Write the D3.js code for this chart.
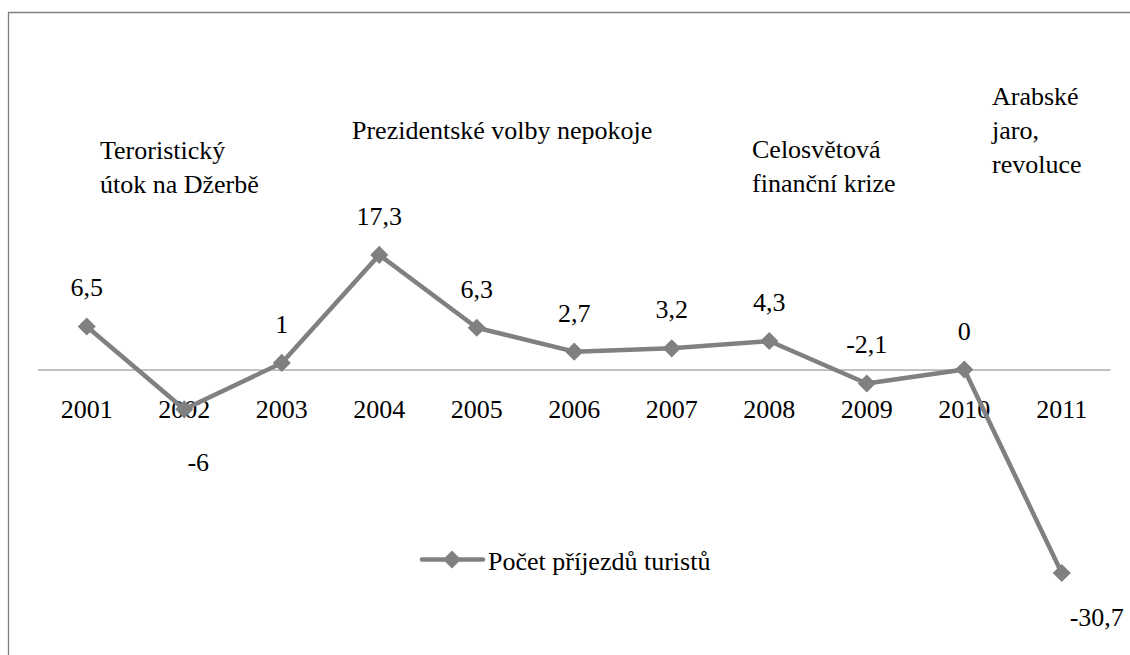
<!DOCTYPE html>
<html>
<head>
<meta charset="utf-8">
<script src="https://cdn.jsdelivr.net/npm/d3@7"></script>
<style>
  body { margin: 0; background: #fff; }
</style>
</head>
<body>
<div id="graph"></div>
<script>
// Data
var years = ["2001", "2002", "2003", "2004", "2005", "2006", "2007", "2008", "2009", "2010", "2011"];
var arrivals = [6.5, -6, 1, 17.3, 6.3, 2.7, 3.2, 4.3, -2.1, 0, -30.7];
var seriesName = "Počet příjezdů turistů";

// event notes, each a list of lines
var noteLines = [
    ["Teroristický", "útok na Džerbě"],
    ["Prezidentské volby nepokoje"],
    ["Celosvětová", "finanční krize"],
    ["Arabské", "jaro,", "revoluce"]
];

// layout of the notes and the labels (not data)
var notePos = [
    {x: 100, y: 159},
    {x: 352, y: 139},
    {x: 752, y: 158},
    {x: 992, y: 105}
];
var labelShift = {"2002": {dx: 14, dy: 61.5}, "2011": {dx: 35, dy: 52.5}};

var width = 1130, height = 655;
var color = "#808080";
var serif = "'Liberation Serif', 'Times New Roman', Tinos, 'DejaVu Serif', serif";

var svg = d3.select("#graph")
    .append("svg")
        .attr("width", width)
        .attr("height", height)
        .attr("font-family", serif)
        .attr("font-size", 26);

svg.append("rect")
    .attr("width", width)
    .attr("height", height)
    .style("fill", "#fff");

// frame (only left and top edges are visible)
svg.append("path")
    .attr("d", "M8.5," + height + "V12.5H" + width)
    .style("fill", "none")
    .style("stroke", "#7f7f7f")
    .style("stroke-width", 1.3);

// scales
var x = d3.scaleBand().domain(years).range([38, 1110.5]).padding(0);
var y = d3.scaleLinear().domain([-35, 20]).range([601.5, 237]);
var cx = function(d) { return x(d) + x.bandwidth() / 2; };

// horizontal axis at zero
var xAxis = d3.axisBottom(x).tickSize(0).tickPadding(0);
var axisG = svg.append("g")
    .attr("class", "axis xaxis")
    .attr("transform", "translate(0," + y(0) + ")")
    .call(xAxis)
    .attr("font-family", serif)
    .attr("font-size", 26);
axisG.select(".domain")
    .attr("d", "M38,0.5H1110.5")
    .style("stroke", "#868686")
    .style("stroke-width", 1);
axisG.selectAll(".tick text")
    .attr("y", 48.5)
    .attr("dy", null)
    .style("fill", "#000");

// line
var data = years.map(function(d, i) { return {year: d, value: arrivals[i]}; });

var valueline = d3.line()
    .x(function(d) { return cx(d.year); })
    .y(function(d) { return y(d.value); });

svg.append("path")
    .datum(data)
    .attr("d", valueline)
    .style("fill", "none")
    .style("stroke", color)
    .style("stroke-width", 4.5)
    .style("stroke-linejoin", "round");

var diamond = d3.symbol().type(d3.symbolDiamond2).size(210);

svg.selectAll(".dot")
    .data(data)
    .enter()
    .append("path")
    .attr("class", "dot")
    .attr("d", diamond)
    .attr("transform", function(d) { return "translate(" + cx(d.year) + "," + y(d.value) + ")"; })
    .style("fill", color);

// value labels
svg.selectAll(".vlabel")
    .data(data)
    .enter()
    .append("text")
    .attr("class", "vlabel")
    .attr("text-anchor", "middle")
    .attr("x", function(d) {
        var s = labelShift[d.year];
        return cx(d.year) + (s ? s.dx : 0);
    })
    .attr("y", function(d) {
        var s = labelShift[d.year];
        return y(d.value) + (s ? s.dy : -30);
    })
    .text(function(d) { return String(d.value).replace(".", ","); });

// notes
noteLines.forEach(function(lines, i) {
    var t = svg.append("text")
        .attr("class", "note")
        .attr("x", notePos[i].x)
        .attr("y", notePos[i].y);
    lines.forEach(function(l, j) {
        t.append("tspan")
            .attr("x", notePos[i].x)
            .attr("dy", j === 0 ? 0 : 34)
            .text(l);
    });
});

// legend
var legend = svg.append("g").attr("transform", "translate(422,559.5)");
legend.append("line")
    .attr("x1", 0)
    .attr("x2", 61)
    .style("stroke", color)
    .style("stroke-width", 4.5)
    .style("stroke-linecap", "round");
legend.append("path")
    .attr("d", diamond)
    .attr("transform", "translate(30,0)")
    .style("fill", color);
legend.append("text")
    .attr("x", 66)
    .attr("y", 10)
    .text(seriesName);

// force the serif face on every text
svg.selectAll("text")
    .style("font-family", serif)
    .style("font-size", "26px")
    .style("fill", "#000");
</script>
</body>
</html>
